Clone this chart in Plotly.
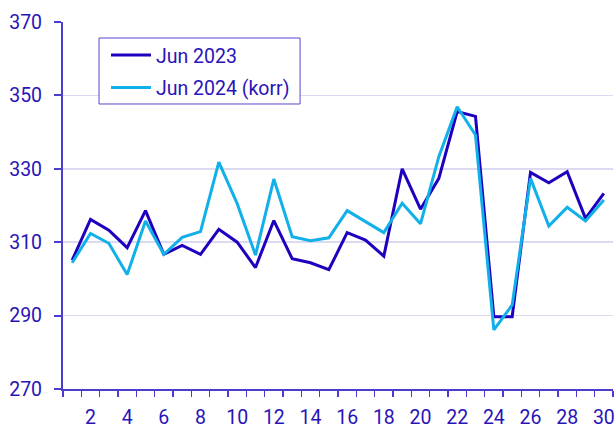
import plotly.graph_objects as go

days = list(range(1, 31))
jun_2023 = [305.1, 316.2, 313.3, 308.5, 318.6, 306.7, 309.1, 306.7, 313.5, 310.0,
            303.1, 315.9, 305.5, 304.4, 302.5, 312.6, 310.6, 306.2, 330.0, 319.0,
            327.4, 345.6, 344.3, 289.7, 289.7, 329.0, 326.2, 329.2, 316.5, 323.3]
jun_2024_korr = [304.4, 312.4, 309.7, 301.2, 315.8, 306.7, 311.3, 312.9, 331.8, 320.5,
                 306.5, 327.2, 311.5, 310.4, 311.2, 318.6, 315.6, 312.6, 320.6, 315.0,
                 333.3, 346.9, 339.2, 286.1, 292.9, 327.4, 314.4, 319.5, 315.8, 321.5]
x_tick_labels = [str(d) for d in days if d % 2 == 0]
y_ticks = [270, 290, 310, 330, 350, 370]

dark = "#1e00be"
light = "#12b0e8"
axis_col = "#4b3cd2"
text_col = "#2a14b8"

fig = go.Figure()
fig.add_trace(go.Scatter(x=days, y=jun_2023, mode="lines", name="Jun 2023",
                         legendgroup="a",
                         line=dict(color=dark, width=3)))
fig.add_trace(go.Scatter(x=days, y=jun_2024_korr, mode="lines", name="Jun 2024 (korr)",
                         legendgroup="b",
                         line=dict(color=light, width=3)))

# legend frame drawn as a shape (paper coordinates)
fig.add_shape(type="rect", xref="paper", yref="paper",
              x0=0.0655, x1=0.431, y0=0.7766, y1=0.9564,
              line=dict(color="#5a46d2", width=1), fillcolor="white", layer="above")

fig.update_layout(
    width=616, height=428,
    margin=dict(l=63, r=3, t=22, b=39),
    paper_bgcolor="white", plot_bgcolor="white",
    font=dict(family="Roboto", size=19.5, color=text_col),
    showlegend=True,
    legend=dict(x=0.0782, y=0.962, xanchor="left", yanchor="top",
                borderwidth=0, bgcolor="rgba(0,0,0,0)",
                font=dict(size=19.5, color=text_col), tracegroupgap=4,
                traceorder="grouped", itemwidth=40),
    xaxis=dict(range=[0.5, 30.5], tickmode="array",
               tickvals=[d for d in days if d % 2 == 0], ticktext=x_tick_labels,
               ticks="outside", ticklen=0, ticklabelstandoff=10, automargin=False,
               showline=True, linecolor=axis_col, linewidth=2,
               showgrid=False, zeroline=False,
               minor=dict(tickmode="array", tickvals=[d - 0.5 for d in days] + [days[-1] + 0.5],
                          ticks="outside", ticklen=6, tickcolor=axis_col, tickwidth=1.5,
                          showgrid=False)),
    yaxis=dict(range=[270, 370], tickmode="array", tickvals=y_ticks,
               ticks="outside", ticklen=7, tickcolor=axis_col, tickwidth=2,
               ticklabelstandoff=8, automargin=False,
               showline=True, linecolor=axis_col, linewidth=2,
               showgrid=True, gridcolor="#dadaf2", gridwidth=1.5, zeroline=False),
)

# remove the default 8px page margin so the 616x428 figure fills the window
fig.write_html("out.html",
               config={"displayModeBar": False, "staticPlot": True},
               post_script="document.body.style.margin='0';document.body.style.overflow='hidden';")
